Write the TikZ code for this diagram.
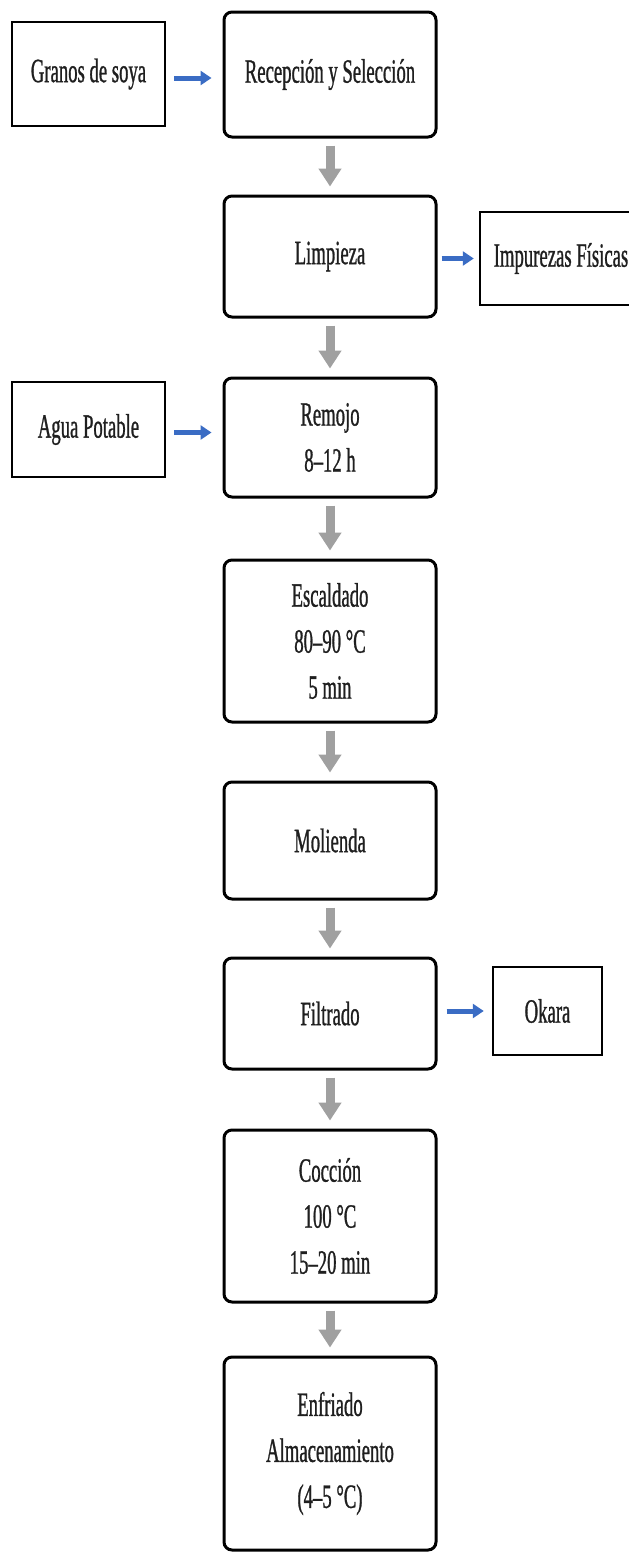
\documentclass[tikz,border=0pt]{standalone}
\usepackage{fontspec}
\setmainfont{Liberation Serif}[FakeStretch=0.55, FakeBold=0.8]
\usetikzlibrary{arrows.meta}
\definecolor{flowgray}{RGB}{160,160,160}
\definecolor{flowblue}{RGB}{58,108,196}
\tikzset{
  lbl/.style={font=\fontsize{34}{46}\selectfont, align=center, inner sep=0pt, text=black!88},
  proc/.style={lbl, draw=black, line width=3pt, rounded corners=8pt, fill=white, minimum width=212pt},
  side/.style={lbl, draw=black, line width=2.5pt, fill=white},
  grayarrow/.style={draw=flowgray, line width=9pt, -{Triangle[width=22pt,length=18pt]}, shorten <=7pt, shorten >=8pt},
  bluearrow/.style={draw=flowblue, line width=5pt, -{Triangle[width=14pt,length=11pt]}}
}
\begin{document}
\begin{tikzpicture}[x=1pt,y=1pt]
\useasboundingbox (0,0) rectangle (629,-1556);
\fill[white] (0,0) rectangle (629,-1556);

\node[side, minimum width=153pt, minimum height=104pt] (granos) at (88.5,-74) {Granos de soya};
\node[proc, minimum height=125pt] (recep) at (330,-74.5) {Recepción y Selección};
\node[proc, minimum height=121pt] (limp) at (330,-256.5) {Limpieza};
\node[side, minimum width=162pt, minimum height=93pt] (impur) at (561,-258.5) {Impurezas Físicas};
\node[side, minimum width=153pt, minimum height=95pt] (agua) at (88.5,-429.5) {Agua Potable};
\node[proc, minimum height=119pt] (remojo) at (330,-437.5) {Remojo\\8–12 h};
\node[proc, minimum height=162pt] (escal) at (330,-641) {Escaldado\\80–90 °C\\5 min};
\node[proc, minimum height=117pt] (moli) at (330,-840.5) {Molienda};
\node[proc, minimum height=111pt] (filt) at (330,-1013.5) {Filtrado};
\node[side, minimum width=109pt, minimum height=88pt] (okara) at (547.5,-1011) {Okara};
\node[proc, minimum height=172pt] (cocc) at (330,-1216) {Cocción\\100 °C\\15–20 min};
\node[proc, minimum height=193pt] (enfr) at (330,-1453.5) {Enfriado\\Almacenamiento\\(4–5 °C)};

\draw[grayarrow] (recep.south) -- (limp.north);
\draw[grayarrow] (limp.south) -- (remojo.north);
\draw[grayarrow] (remojo.south) -- (escal.north);
\draw[grayarrow] (escal.south) -- (moli.north);
\draw[grayarrow] (moli.south) -- (filt.north);
\draw[grayarrow] (filt.south) -- (cocc.north);
\draw[grayarrow] (cocc.south) -- (enfr.north);

\draw[bluearrow, shorten <=8pt, shorten >=11pt] ([yshift=-4pt]granos.east) -- ([yshift=-4pt]granos.east -| recep.west);
\draw[bluearrow, shorten <=4pt, shorten >=5pt] (limp.east |- impur.west) -- (impur.west);
\draw[bluearrow, shorten <=8pt, shorten >=11pt] ([yshift=-3pt]agua.east) -- ([yshift=-3pt]agua.east -| remojo.west);
\draw[bluearrow, shorten <=9pt, shorten >=8pt] (filt.east |- okara.west) -- (okara.west);
\end{tikzpicture}
\end{document}
